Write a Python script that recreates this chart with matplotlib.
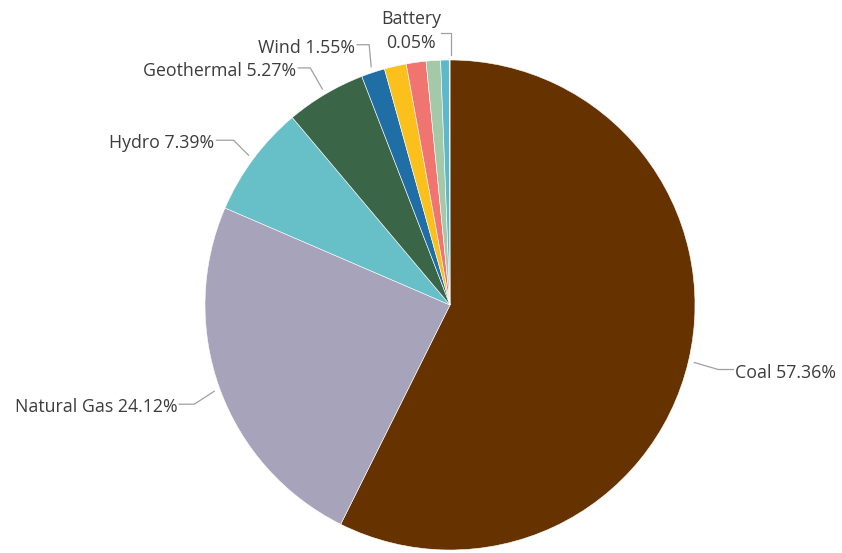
import numpy as np
import matplotlib.pyplot as plt

# generation mix, clockwise from 12 o'clock
sources = ['Coal', 'Natural Gas', 'Hydro', 'Geothermal', 'Wind',
           'Solar', 'Oil', 'Biomass', 'Other', 'Battery']
shares = [57.36, 24.12, 7.39, 5.27, 1.55, 1.45, 1.30, 0.95, 0.56, 0.05]
colors = ['#663300', '#a6a3ba', '#67bfc7', '#3a6647', '#1f6ea6',
          '#fbc01c', '#f07470', '#a4c9a9', '#5db9ca', '#4f9fd1']
labelled = ['Coal', 'Natural Gas', 'Hydro', 'Geothermal', 'Wind']
# leader line elbow, as (dx, dy) in pixels from where the line leaves the rim
# (dy measured downwards), then the horizontal run length
elbows = {'Coal': (24, 7, 15), 'Natural Gas': (-20, 13, 15),
          'Hydro': (-15, -15, 17), 'Geothermal': (-12, -21, 12),
          'Wind': (-2, -22, 12)}

W, H = 842, 553
cx, cy, r = 450, H - 305, 245
gap = 6

plt.rcParams['font.family'] = ['Open Sans', 'DejaVu Sans']
fig = plt.figure(figsize=(W / 100, H / 100), dpi=100)
ax = fig.add_axes([0, 0, 1, 1])

wedges, _ = ax.pie(shares, colors=colors, center=(cx, cy), radius=r,
                   startangle=90, counterclock=False,
                   wedgeprops=dict(edgecolor='white', linewidth=0.4))
ax.set_xlim(0, W)
ax.set_ylim(0, H)
ax.set_aspect('equal')
ax.axis('off')

line_kw = dict(color='#a0a0a0', lw=0.9)
txt_kw = dict(fontsize=12.8, color='#3c3c3c', va='center')

cum = np.cumsum([0] + shares)
for i, name in enumerate(sources):
    if name not in labelled:
        continue
    mid = np.deg2rad(90 - (cum[i] + shares[i] / 2) * 3.6)
    x0, y0 = cx + (r + gap) * np.cos(mid), cy + (r + gap) * np.sin(mid)
    dx, dy, run = elbows[name]
    x1, y1 = x0 + dx, y0 - dy
    side = 1 if np.cos(mid) > 0 else -1
    x2 = x1 + side * run
    ax.plot([x0, x1, x2], [y0, y1, y1], **line_kw)
    # text sits a little below the horizontal run
    ax.text(x2 + side * 2, y1 - 3, f'{name} {shares[i]:.2f}%',
            ha='left' if side > 0 else 'right', **txt_kw)

# battery slice is a sliver at the top, so its label sits above it
bx = cx + 1
ax.plot([bx, bx, bx - 10], [H - 55, H - 33, H - 33], **line_kw)
ax.text(411, H - 19, 'Battery', ha='center', **txt_kw)
ax.text(411, H - 43, f'{shares[-1]:.2f}%', ha='center', **txt_kw)

fig.savefig('out.png', dpi=100, facecolor='white')
